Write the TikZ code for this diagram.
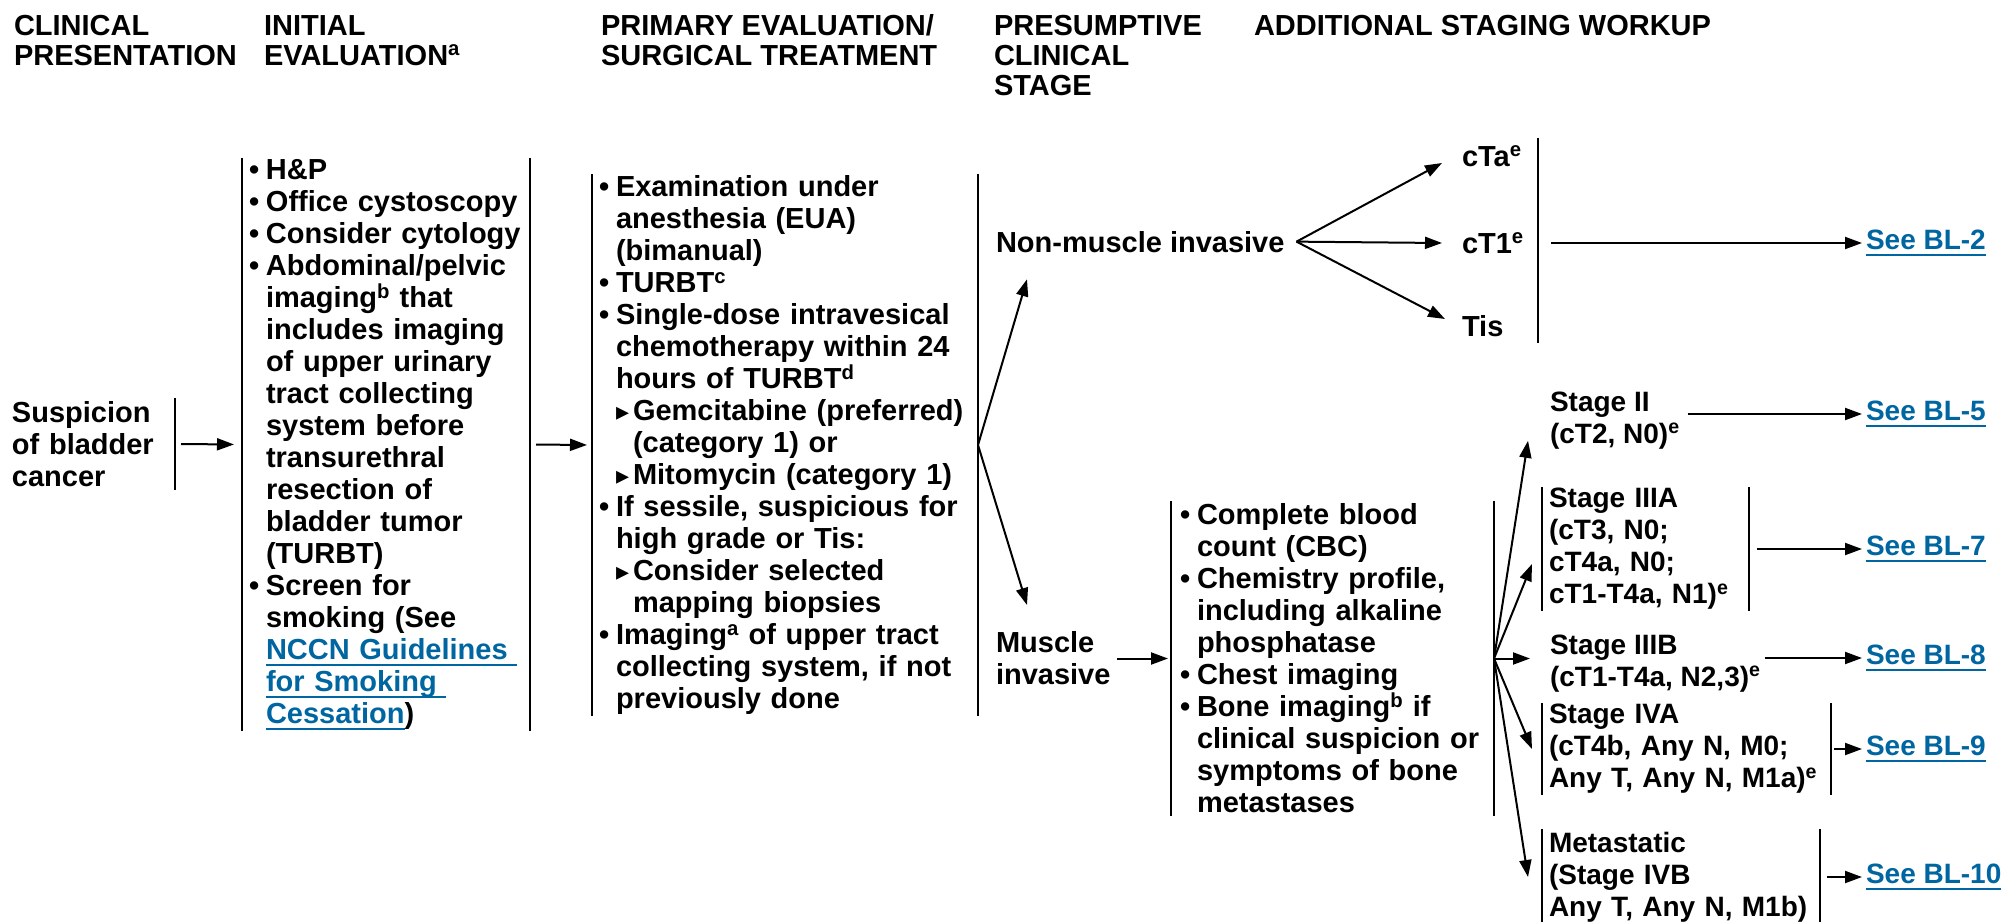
\documentclass[tikz,border=0pt]{standalone}
\usepackage{fontspec}
\setmainfont{Liberation Sans}
\newfontfamily\trifont{DejaVu Sans}
\usetikzlibrary{arrows.meta}
\definecolor{nccnblue}{RGB}{0,102,161}

\newcommand{\itm}{\makebox[17pt][l]{\textbullet}}
\newcommand{\indt}{\hspace*{17pt}}
\newcommand{\subitm}{\hspace*{17pt}\makebox[17pt][l]{\raisebox{0pt}{\fontsize{26}{26}\trifont ▸}}}
\newcommand{\lnk}[1]{\textcolor{nccnblue}{\setbox0\hbox{#1}\rlap{\rule[-6.5pt]{\wd0}{2pt}}\box0}}

\begin{document}
\begin{tikzpicture}[x=1pt, y=-1pt, line width=2pt,
    txt/.style={inner sep=0pt, align=left, font=\bfseries\fontsize{29}{32}\selectfont},
    stgfont/.style={font=\bfseries\fontsize{28}{32}\selectfont},
    grp/.style={txt, anchor=west},
    lbl/.style={txt, anchor=base west},
    hdr/.style={lbl, font=\bfseries\fontsize{29}{30}\selectfont},
    lnkbox/.style={txt, stgfont, anchor=west, inner xsep=3pt},
    arr/.style={-{Triangle[length=17pt,width=12pt]}},
    bar/.style={line width=2pt}]
        \useasboundingbox (0,0) rectangle (2005,921);

        \node[hdr] (hPres) at (13,65) {CLINICAL\\PRESENTATION};
        \node[hdr] (hInit) at (263,65) {INITIAL\\EVALUATION\textsuperscript{a}};
        \node[hdr] (hPrim) at (600,65) {PRIMARY EVALUATION/\\SURGICAL TREATMENT};
        \node[hdr] (hStage) at (993,95) {PRESUMPTIVE\\CLINICAL\\STAGE};
        \node[hdr] (hWork) at (1253,35) {ADDITIONAL STAGING WORKUP};

        \node[grp, text width=151pt, inner xsep=11pt, minimum height=90pt] (susp) at (0,444) {Suspicion\\of bladder\\cancer};
        \draw[bar] (susp.north east) -- (susp.south east);

        \node[grp, text width=274pt, inner xsep=6pt, minimum height=569pt] (init) at (242,444.5) {\itm H\&P\\
          \itm Office cystoscopy\\
          \itm Consider cytology\\
          \itm Abdominal/pelvic\\
          \indt imaging\textsuperscript{b} that\\
          \indt includes imaging\\
          \indt of upper urinary\\
          \indt tract collecting\\
          \indt system before\\
          \indt transurethral\\
          \indt resection of\\
          \indt bladder tumor\\
          \indt (TURBT)\\
          \itm Screen for\\
          \indt smoking (See\\
          \indt \lnk{NCCN Guidelines\ }\\
          \indt \lnk{for Smoking\ }\\
          \indt \lnk{Cessation})};
        \draw[bar] (init.north west) -- (init.south west);
        \draw[bar] (init.north east) -- (init.south east);

        \node[grp, text width=372pt, inner xsep=6pt, minimum height=538pt] (prim) at (592,445) {\itm Examination under\\
          \indt anesthesia (EUA)\\
          \indt (bimanual)\\
          \itm TURBT\textsuperscript{c}\\
          \itm Single-dose intravesical\\
          \indt chemotherapy within 24\\
          \indt hours of TURBT\textsuperscript{d}\\
          \subitm Gemcitabine (preferred)\\
          \indt\indt (category 1) or\\
          \subitm Mitomycin (category 1)\\
          \itm If sessile, suspicious for\\
          \indt high grade or Tis:\\
          \subitm Consider selected\\
          \indt\indt mapping biopsies\\
          \itm Imaging\textsuperscript{a} of upper tract\\
          \indt collecting system, if not\\
          \indt previously done};
        \draw[bar] (prim.north west) -- (prim.south west);
        \draw[bar] (prim.north east) -- (prim.south east);

        \node[lbl] (nmi) at (995,252) {Non-muscle invasive};
        \node[lbl] (mi) at (995,684) {Muscle\\invasive};

        \draw[arr] (prim.east) -- ([xshift=32pt,yshift=-26pt]nmi.south west);
        \draw[arr] (prim.east) -- ([xshift=32pt,yshift=25pt]mi.north west);

        \node[lbl] (cta) at (1461,166) {cTa\textsuperscript{e}};
        \node[lbl] (ctone) at (1461,253) {cT1\textsuperscript{e}};
        \node[lbl] (tis) at (1461,336) {Tis};

        \draw[arr] ([xshift=11pt]nmi.east) -- ([xshift=-19pt,yshift=3pt]cta.base west);
        \draw[arr] ([xshift=11pt]nmi.east) -- ([xshift=-19pt,yshift=10pt]ctone.base west);
        \draw[arr] ([xshift=11pt]nmi.east) -- ([xshift=-16pt,yshift=17pt]tis.base west);

        \coordinate (nmibar) at (1538,243);
        \draw[bar] ([yshift=105pt]nmibar) -- ([yshift=-100pt]nmibar);

        \node[grp, text width=305pt, inner xsep=8pt, minimum height=313pt] (stg) at (1171,658.5) {\itm Complete blood\\
          \indt count (CBC)\\
          \itm Chemistry profile,\\
          \indt including alkaline\\
          \indt phosphatase\\
          \itm Chest imaging\\
          \itm Bone imaging\textsuperscript{b} if\\
          \indt clinical suspicion or\\
          \indt symptoms of bone\\
          \indt metastases};
        \draw[bar] (stg.north west) -- (stg.south west);
        \draw[bar] (stg.north east) -- (stg.south east);

        \draw[arr, shorten <=6pt, shorten >=8pt] (susp.east) -- (init.west);
        \draw[arr, shorten <=6pt, shorten >=5pt] (init.east) -- (prim.west);
        \draw[arr, shorten <=6pt, shorten >=3pt] (stg.west -| mi.east) -- (stg.west);

        \node[lbl, stgfont] (s2) at (1549,443) {Stage II\\(cT2, N0)\textsuperscript{e}};
        \node[grp, stgfont, text width=193pt, inner xsep=6pt, minimum height=122pt] (s3a) at (1542,549) {Stage IIIA\\(cT3, N0;\\cT4a, N0;\\cT1-T4a, N1)\textsuperscript{e}};
        \node[lbl, stgfont] (s3b) at (1549,686) {Stage IIIB\\(cT1-T4a, N2,3)\textsuperscript{e}};
        \node[grp, stgfont, text width=275pt, inner xsep=6pt, minimum height=90pt] (s4a) at (1542,749) {Stage IVA\\(cT4b, Any N, M0;\\Any T, Any N, M1a)\textsuperscript{e}};
        \node[grp, stgfont, text width=264pt, inner xsep=6pt, minimum height=94pt] (s4b) at (1542,877) {Metastatic\\(Stage IVB\\Any T, Any N, M1b)};
        \draw[bar] (s3a.north west) -- (s3a.south west);
        \draw[bar] (s3a.north east) -- (s3a.south east);
        \draw[bar] (s4a.north west) -- (s4a.south west);
        \draw[bar] (s4a.north east) -- (s4a.south east);
        \draw[bar] (s4b.north west) -- (s4b.south west);
        \draw[bar] (s4b.north east) -- (s4b.south east);

        \coordinate (s3btip) at ([xshift=-19pt]s3b.west);
        \draw[arr] (stg.east) -- ([xshift=-21pt,yshift=9pt]s2.south west);
        \draw[arr] (stg.east) -- ([xshift=-10pt,yshift=-15pt]s3a.west);
        \draw[arr] (stg.east) -- (s3btip |- stg.east);
        \draw[arr] (stg.east) -- ([xshift=-10pt]s4a.west);
        \draw[arr] (stg.east) -- ([xshift=-14pt]s4b.west);

        \node[lnkbox] (bl2) at (1862,243) {\lnk{See BL-2}};
        \node[lnkbox] (bl5) at (1862,414) {\lnk{See BL-5}};
        \node[lnkbox] (bl7) at (1862,549) {\lnk{See BL-7}};
        \node[lnkbox] (bl8) at (1862,658) {\lnk{See BL-8}};
        \node[lnkbox] (bl9) at (1862,749) {\lnk{See BL-9}};
        \node[lnkbox] (bl10) at (1862,877) {\lnk{See BL-10}};

        \draw[arr, shorten <=13pt] (nmibar) -- (bl2.west);
        \draw[arr, shorten <=7pt] (bl5.west -| s2.east) -- (bl5.west);
        \draw[arr, shorten <=8pt] (s3a.east) -- (bl7.west);
        \draw[arr, shorten <=3pt] (bl8.west -| s3b.east) -- (bl8.west);
        \draw[arr, shorten <=3pt] (s4a.east) -- (bl9.west);
        \draw[arr, shorten <=7pt] (s4b.east) -- (bl10.west);
      \end{tikzpicture}
\end{document}
